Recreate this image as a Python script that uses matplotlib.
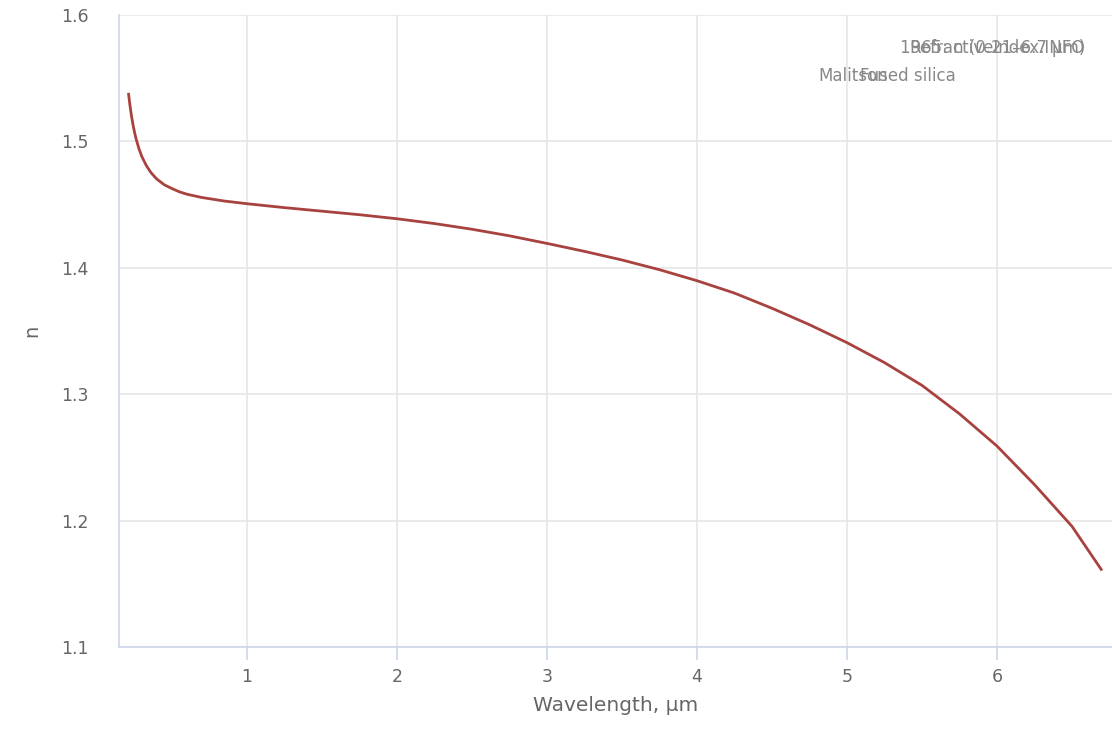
import matplotlib
matplotlib.use("Agg")
import matplotlib.pyplot as plt

# refractive index of fused silica
wavelength = [0.21, 0.22, 0.23, 0.24, 0.25, 0.26, 0.28, 0.30, 0.33, 0.36, 0.40,
              0.45, 0.50, 0.55, 0.60, 0.70, 0.85, 1.0, 1.25, 1.5, 1.75, 2.0,
              2.25, 2.5, 2.75, 3.0, 3.25, 3.5, 3.75, 4.0, 4.25, 4.5, 4.75, 5.0,
              5.25, 5.5, 5.75, 6.0, 6.25, 6.5, 6.7]
n_index = [1.5384, 1.5285, 1.5203, 1.5134, 1.5075, 1.5024, 1.4942, 1.4878,
           1.4807, 1.4753, 1.4701, 1.4656, 1.4627, 1.4601, 1.4582, 1.4556,
           1.4528, 1.4507, 1.4476, 1.4448, 1.4420, 1.4388, 1.4350, 1.4305,
           1.4253, 1.4193, 1.4130, 1.4062, 1.3985, 1.3898, 1.3800, 1.3680,
           1.3550, 1.3408, 1.3250, 1.3070, 1.2845, 1.2590, 1.2285, 1.1955,
           1.1605]

x_ticks = [1, 2, 3, 4, 5, 6]
y_ticks = [1.1, 1.2, 1.3, 1.4, 1.5, 1.6]

axis_col = "#ccd6eb"
grid_col = "#e6e6e6"
text_col = "#666666"

fig = plt.figure(figsize=(11.12, 7.30), dpi=100)
ax = fig.add_axes([119 / 1112, 83 / 730, 1 - 119 / 1112, 632 / 730])

ax.plot(wavelength, n_index, color="#a8423f", lw=2.0, solid_capstyle="butt", zorder=3)

ax.set_xlim(0.147, 6.767)
ax.set_ylim(1.1, 1.6)
ax.set_xticks(x_ticks)
ax.set_yticks(y_ticks)
ax.set_yticklabels([f"{v:.1f}" for v in y_ticks])
ax.grid(True, color=grid_col, lw=1.2)
ax.set_axisbelow(True)

for s in ["top", "right"]:
    ax.spines[s].set_visible(False)
ax.spines["left"].set_color(axis_col)
ax.spines["bottom"].set_color(axis_col)
ax.spines["left"].set_linewidth(1.2)
ax.spines["bottom"].set_linewidth(1.2)

ax.tick_params(axis="x", colors=axis_col, length=9, width=1.2, pad=6,
               labelcolor=text_col, labelsize=12.5)
ax.tick_params(axis="y", length=0, pad=22, labelcolor=text_col, labelsize=12.5)

ax.set_xlabel("Wavelength, µm", color=text_col, fontsize=14.5, labelpad=7)
ax.set_ylabel("n", color=text_col, fontsize=14, labelpad=14)

# credit labels, drawn on top of each other
cfont = dict(color="#888888", fontsize=12, family="DejaVu Sans", transform=fig.transFigure)
fig.text(1085 / 1112, 1 - 48 / 730, "RefractiveIndex.INFO", ha="right", va="center", **cfont)
fig.text(1085 / 1112, 1 - 48 / 730, "1965: n (0.21–6.7 µm)", ha="right", va="center", **cfont)
fig.text(818 / 1112, 1 - 76 / 730, "Malitson", ha="left", va="center", **cfont)
fig.text(860 / 1112, 1 - 76 / 730, "Fused silica", ha="left", va="center", **cfont)

fig.savefig("out.png", dpi=100)
